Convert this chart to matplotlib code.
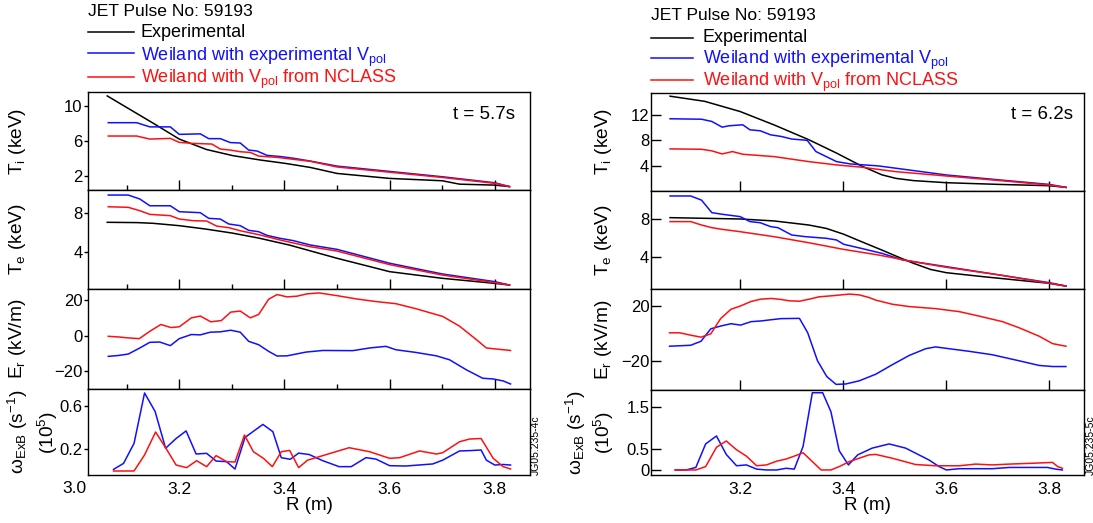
import matplotlib
matplotlib.use("Agg")
import matplotlib.pyplot as plt
import matplotlib.transforms as mtransforms
from matplotlib.lines import Line2D
from matplotlib.ticker import FixedLocator, NullLocator

plt.rcParams["font.family"] = ["Liberation Sans", "DejaVu Sans"]
plt.rcParams["mathtext.fontset"] = "custom"
plt.rcParams["mathtext.rm"] = "Liberation Sans"
plt.rcParams["mathtext.it"] = "Liberation Sans:italic"
plt.rcParams["axes.linewidth"] = 1.0

W, H = 1093, 523

# ---------------- t = 5.7 s ----------------
R_TI_EXP_57 = [3.063, 3.151, 3.20, 3.252, 3.302, 3.354, 3.403, 3.449, 3.50, 3.60, 3.70, 3.733, 3.80, 3.828]
TI_EXP_57 = [11.15, 8.0, 6.2, 5.0, 4.3, 3.8, 3.4, 2.95, 2.26, 1.69, 1.42, 1.03, 0.92, 0.75]
R_TI_VEXP_57 = [3.065, 3.119, 3.144, 3.183, 3.20, 3.24, 3.256, 3.278, 3.297, 3.316, 3.332, 3.348, 3.367,
                3.392, 3.417, 3.449, 3.50, 3.60, 3.70, 3.80, 3.828]
TI_VEXP_57 = [8.08, 8.08, 7.6, 7.6, 6.74, 6.8, 6.25, 6.25, 5.8, 5.75, 4.94, 4.83, 4.33,
              4.2, 4.0, 3.68, 3.1, 2.49, 1.88, 1.19, 0.75]
R_TI_NCL_57 = [3.065, 3.119, 3.144, 3.183, 3.20, 3.227, 3.262, 3.278, 3.297, 3.316, 3.335, 3.351, 3.386,
               3.449, 3.50, 3.60, 3.70, 3.80, 3.828]
TI_NCL_57 = [6.55, 6.55, 6.2, 6.28, 5.82, 5.7, 5.63, 5.06, 4.94, 4.75, 4.67, 4.25, 4.1,
             3.65, 3.0, 2.4, 1.8, 1.12, 0.75]

R_TE_EXP_57 = [3.063, 3.12, 3.15, 3.20, 3.25, 3.30, 3.35, 3.409, 3.50, 3.60, 3.70, 3.80, 3.828]
TE_EXP_57 = [7.03, 7.0, 6.93, 6.69, 6.35, 5.95, 5.45, 4.74, 3.4, 2.05, 1.38, 0.87, 0.7]
R_TE_VEXP_57 = [3.065, 3.103, 3.125, 3.144, 3.183, 3.20, 3.24, 3.256, 3.278, 3.294, 3.316, 3.332, 3.351,
                3.367, 3.392, 3.417, 3.449, 3.50, 3.60, 3.70, 3.80, 3.828]
TE_VEXP_57 = [9.78, 9.78, 9.38, 8.7, 8.7, 8.1, 8.0, 7.43, 7.36, 6.86, 6.69, 6.22, 6.08,
              5.71, 5.41, 5.18, 4.74, 4.3, 2.9, 1.82, 1.04, 0.7]
R_TE_NCL_57 = [3.065, 3.103, 3.125, 3.144, 3.183, 3.20, 3.227, 3.252, 3.271, 3.294, 3.316, 3.354, 3.392,
               3.449, 3.50, 3.60, 3.70, 3.80, 3.828]
TE_NCL_57 = [8.6, 8.54, 8.2, 7.83, 7.7, 7.36, 7.19, 7.16, 6.65, 6.49, 6.18, 5.75, 5.24,
             4.57, 4.13, 2.76, 1.71, 0.94, 0.7]

R_ER_NCL_57 = [3.065, 3.084, 3.103, 3.124, 3.144, 3.165, 3.184, 3.20, 3.223, 3.24, 3.26, 3.28, 3.298,
               3.316, 3.335, 3.351, 3.37, 3.386, 3.405, 3.424, 3.443, 3.466, 3.504, 3.536, 3.574,
               3.612, 3.65, 3.701, 3.733, 3.765, 3.784, 3.803, 3.83]
ER_NCL_57 = [-0.4, -0.75, -1.3, -1.7, 2.4, 6.2, 4.5, 4.9, 9.9, 10.9, 7.7, 8.4, 13.1,
             13.7, 9.9, 11.8, 20.3, 22.9, 21.6, 22.0, 23.3, 23.8, 22.1, 20.5, 19.0,
             17.8, 15.0, 10.7, 5.25, -2.25, -6.9, -7.5, -8.3]
R_ER_VEXP_57 = [3.065, 3.084, 3.103, 3.125, 3.144, 3.163, 3.183, 3.20, 3.223, 3.24, 3.259, 3.278, 3.298,
                3.316, 3.332, 3.351, 3.37, 3.386, 3.405, 3.441, 3.473, 3.53, 3.562, 3.593, 3.612,
                3.65, 3.689, 3.714, 3.746, 3.777, 3.797, 3.816, 3.83]
ER_VEXP_57 = [-11.6, -11.1, -10.3, -6.9, -3.75, -3.6, -5.6, -1.7, 0.6, 0.4, 1.9, 2.1, 3.0,
              1.9, -3.2, -5.1, -8.8, -11.4, -11.3, -9.2, -8.3, -8.4, -6.9, -6.0, -7.9,
              -9.4, -11.3, -13.5, -19.1, -23.8, -24.2, -25.3, -27.0]

R_W_VEXP_57 = [3.075, 3.094, 3.114, 3.134, 3.154, 3.174, 3.194, 3.213, 3.232, 3.252, 3.27, 3.29, 3.306,
               3.325, 3.359, 3.378, 3.394, 3.411, 3.427, 3.447, 3.473, 3.504, 3.527, 3.555, 3.574,
               3.60, 3.631, 3.682, 3.701, 3.733, 3.752, 3.774, 3.784, 3.80, 3.816, 3.83]
W_VEXP_57 = [0.015, 0.07, 0.255, 0.72, 0.55, 0.21, 0.30, 0.37, 0.157, 0.163, 0.092, 0.086, 0.018,
             0.31, 0.43, 0.363, 0.123, 0.108, 0.165, 0.152, 0.095, 0.04, 0.04, 0.123, 0.11,
             0.049, 0.046, 0.065, 0.1, 0.185, 0.188, 0.194, 0.1, 0.055, 0.06, 0.055]
R_W_NCL_57 = [3.075, 3.114, 3.134, 3.155, 3.174, 3.194, 3.214, 3.233, 3.252, 3.27, 3.29, 3.306, 3.324,
              3.341, 3.36, 3.377, 3.394, 3.41, 3.427, 3.444, 3.473, 3.523, 3.562, 3.60, 3.619,
              3.657, 3.689, 3.701, 3.733, 3.752, 3.774, 3.797, 3.816, 3.83]
W_NCL_57 = [0.0, 0.0, 0.148, 0.36, 0.215, 0.055, 0.031, 0.095, 0.04, 0.142, 0.086, 0.083, 0.332,
            0.178, 0.117, 0.04, 0.178, 0.19, 0.031, 0.1, 0.142, 0.215, 0.178, 0.117, 0.123,
            0.185, 0.157, 0.169, 0.27, 0.295, 0.30, 0.117, 0.04, 0.018]

# ---------------- t = 6.2 s ----------------
R_TI_EXP_62 = [3.064, 3.131, 3.20, 3.266, 3.333, 3.387, 3.435, 3.475, 3.502, 3.536, 3.60, 3.704, 3.80, 3.832]
TI_EXP_62 = [14.9, 14.1, 12.5, 10.4, 8.1, 6.0, 4.0, 2.6, 2.05, 1.7, 1.37, 1.1, 0.9, 0.64]
R_TI_VEXP_62 = [3.064, 3.125, 3.145, 3.165, 3.178, 3.205, 3.219, 3.239, 3.259, 3.28, 3.30, 3.33, 3.347,
                3.367, 3.387, 3.414, 3.468, 3.60, 3.704, 3.80, 3.832]
TI_VEXP_62 = [11.37, 11.3, 10.95, 10.06, 10.27, 10.43, 9.64, 9.49, 8.86, 8.6, 8.2, 8.0, 6.24,
              5.45, 4.67, 4.3, 4.0, 2.58, 1.8, 1.1, 0.64]
R_TI_NCL_62 = [3.064, 3.125, 3.145, 3.165, 3.185, 3.205, 3.266, 3.333, 3.387, 3.435, 3.502, 3.60,
               3.704, 3.80, 3.832]
TI_NCL_62 = [6.66, 6.6, 6.35, 5.87, 6.24, 5.82, 5.45, 4.67, 4.15, 3.8, 3.1, 2.42, 1.7, 1.0, 0.64]

R_TE_EXP_62 = [3.064, 3.20, 3.266, 3.333, 3.367, 3.40, 3.435, 3.475, 3.502, 3.536, 3.569, 3.60,
               3.671, 3.80, 3.832]
TE_EXP_62 = [8.14, 8.0, 7.79, 7.36, 7.0, 6.4, 5.6, 4.7, 4.07, 3.3, 2.65, 2.3, 1.88, 1.17, 0.88]
R_TE_VEXP_62 = [3.064, 3.104, 3.125, 3.145, 3.165, 3.20, 3.219, 3.239, 3.259, 3.273, 3.30, 3.327, 3.367,
                3.387, 3.401, 3.435, 3.475, 3.515, 3.60, 3.704, 3.80, 3.832]
TE_VEXP_62 = [10.44, 10.44, 10.0, 8.67, 8.5, 8.25, 7.72, 7.6, 7.19, 7.08, 6.3, 6.12, 5.95,
              5.77, 5.31, 4.88, 4.35, 3.65, 2.94, 2.05, 1.24, 0.88]
R_TE_NCL_62 = [3.064, 3.104, 3.125, 3.145, 3.165, 3.20, 3.266, 3.333, 3.40, 3.468, 3.536, 3.60,
               3.704, 3.80, 3.832]
TE_NCL_62 = [7.72, 7.72, 7.36, 7.08, 6.9, 6.65, 6.12, 5.48, 4.78, 4.18, 3.47, 2.87, 2.05, 1.17, 0.88]

R_ER_NCL_62 = [3.063, 3.083, 3.104, 3.124, 3.143, 3.162, 3.182, 3.201, 3.221, 3.24, 3.26, 3.279, 3.295,
               3.315, 3.334, 3.353, 3.379, 3.412, 3.431, 3.45, 3.463, 3.495, 3.528, 3.579, 3.625,
               3.663, 3.709, 3.741, 3.78, 3.806, 3.832]
ER_NCL_62 = [0.37, 0.37, -1.35, -2.8, -0.37, 10.7, 17.5, 20.0, 23.2, 24.9, 25.4, 24.7, 23.7,
             23.4, 24.9, 26.6, 27.4, 28.6, 28.0, 26.1, 24.2, 21.2, 19.5, 18.0, 15.8,
             12.6, 8.5, 4.05, -2.1, -7.5, -9.4]
R_ER_VEXP_62 = [3.063, 3.104, 3.124, 3.143, 3.162, 3.182, 3.201, 3.221, 3.24, 3.26, 3.279, 3.315, 3.331,
                3.35, 3.368, 3.386, 3.405, 3.431, 3.463, 3.495, 3.528, 3.56, 3.579, 3.605, 3.644,
                3.689, 3.741, 3.78, 3.806, 3.832]
ER_VEXP_62 = [-9.4, -8.7, -5.8, 3.3, 5.3, 7.0, 6.0, 8.5, 9.0, 9.9, 10.7, 10.9, 0.4,
              -20.0, -31.5, -37.2, -36.9, -34.6, -29.8, -22.9, -16.1, -11.2, -9.9, -11.2, -13.1,
              -15.6, -20.0, -23.4, -24.2, -24.2]

R_W_VEXP_62 = [3.074, 3.095, 3.114, 3.133, 3.154, 3.173, 3.193, 3.212, 3.232, 3.251, 3.271, 3.289, 3.305,
               3.322, 3.34, 3.36, 3.376, 3.392, 3.41, 3.428, 3.456, 3.489, 3.521, 3.566, 3.586,
               3.60, 3.625, 3.689, 3.722, 3.796, 3.812, 3.825]
W_VEXP_62 = [0.0, 0.0, 0.06, 0.62, 0.81, 0.37, 0.1, 0.12, 0.02, 0.0, 0.0, 0.04, 0.02,
             0.56, 1.84, 1.84, 1.39, 0.46, 0.12, 0.36, 0.52, 0.62, 0.52, 0.24, 0.08,
             0.0, 0.03, 0.03, 0.06, 0.06, 0.02, 0.0]
R_W_NCL_62 = [3.074, 3.114, 3.133, 3.154, 3.173, 3.193, 3.212, 3.232, 3.251, 3.271, 3.289, 3.305, 3.322,
              3.34, 3.357, 3.376, 3.392, 3.412, 3.45, 3.463, 3.495, 3.54, 3.579, 3.625, 3.657,
              3.689, 3.722, 3.767, 3.806, 3.816, 3.825]
W_NCL_62 = [0.0, 0.0, 0.08, 0.54, 0.69, 0.48, 0.33, 0.1, 0.12, 0.21, 0.26, 0.33, 0.41,
            0.2, 0.0, 0.0, 0.08, 0.2, 0.36, 0.37, 0.28, 0.13, 0.1, 0.1, 0.14,
            0.12, 0.14, 0.16, 0.18, 0.08, 0.04]

TITLE = "JET Pulse No: 59193"
LABELS = ["Experimental", r"Weiland with experimental V$_{\mathregular{pol}}$",
          r"Weiland with V$_{\mathregular{pol}}$ from NCLASS"]
COLORS = ["black", "#1010ff", "#ff1010"]
YLABELS = [r"T$_{\mathregular{i}}$ (keV)", r"T$_{\mathregular{e}}$ (keV)",
           r"E$_{\mathregular{r}}$ (kV/m)",
           "\u03c9$_{\\mathregular{ExB}}$ (s$^{\\mathregular{-1}}$)"]
WSCALE_LABEL = r"(10$^{\mathregular{5}}$)"
XLIM = (3.027, 3.867)


def axes_px(fig, left, top, right, bottom):
    return fig.add_axes([left / W, 1 - bottom / H, (right - left) / W, (bottom - top) / H])


def build_column(fig, left, right, rows, panels, ylims, yticks, yticklabels,
                 ydir, ylen, ypad, ylab_x, wlab_x, wscale_x, minor, jg_x, jg_text, t_text, t_x):
    axes = []
    for i, (top, bottom) in enumerate(rows):
        ax = axes_px(fig, left, top, right, bottom)
        cols = COLORS if len(panels[i]) == 3 else COLORS[1:]
        for col, (r, v) in zip(cols, panels[i]):
            ax.plot(r, v, color=col, lw=1.1)
        ax.set_xlim(*XLIM)
        ax.set_ylim(*ylims[i])
        ax.yaxis.set_major_locator(FixedLocator(yticks[i]))
        ax.set_yticklabels(yticklabels[i])
        ax.tick_params(axis="y", direction=ydir, length=ylen, width=1.0, labelsize=12, pad=ypad)
        ax.set_xticks([3.2, 3.4, 3.6, 3.8])
        if minor:
            ax.xaxis.set_minor_locator(FixedLocator([3.1, 3.3, 3.5, 3.7]))
        else:
            ax.xaxis.set_minor_locator(NullLocator())
        if i < 3:
            ax.tick_params(axis="x", which="major", direction="in", length=7.5, width=1.0, labelbottom=False)
            ax.tick_params(axis="x", which="minor", direction="in", length=3.8, width=1.0)
        else:
            ax.tick_params(axis="x", which="both", length=0, labelsize=12.5, pad=5)
            ax.set_xticklabels(["3.2", "3.4", "3.6", "3.8"])
            ax.set_xlabel("R (m)", fontsize=13.5, va="center")
            ax.xaxis.set_label_coords(0.5, -(505 - bottom) / (bottom - top))
        ax.set_ylabel(YLABELS[i], fontsize=13.8, va="center", ha="center")
        ax.yaxis.set_label_coords(((wlab_x if i == 3 else ylab_x) - left) / (right - left), 0.5)
        axes.append(ax)

    # second line of the shear-rate label: units scale
    wax = axes[3]
    wax.text((wscale_x - left) / (right - left), 0.5, WSCALE_LABEL, transform=wax.transAxes,
             rotation=90, ha="center", va="center", fontsize=13.8)
    # run time stamp in the top panel
    axes[0].text(t_x, 0.775, t_text, transform=axes[0].transAxes, ha="right", va="center", fontsize=13.5)
    fig.text(jg_x / W, 1 - 445 / H, jg_text, rotation=90, ha="center", va="center", fontsize=7.5)
    return axes


def draw_key(fig, x0, x1, xt, baselines, handle_y):
    fig.text(x0 / W, 1 - baselines[0] / H, TITLE, ha="left", va="baseline", fontsize=12.6)
    for lab, col, yb, yh in zip(LABELS, COLORS, baselines[1:], handle_y):
        fig.add_artist(Line2D([x0 / W, x1 / W], [1 - yh / H, 1 - yh / H], color=col, lw=1.1))
        fig.text(xt / W, 1 - yb / H, lab, color=col, ha="left", va="baseline", fontsize=13)


fig = plt.figure(figsize=(W / 100, H / 100), dpi=100)

left_panels = [
    [(R_TI_EXP_57, TI_EXP_57), (R_TI_VEXP_57, TI_VEXP_57), (R_TI_NCL_57, TI_NCL_57)],
    [(R_TE_EXP_57, TE_EXP_57), (R_TE_VEXP_57, TE_VEXP_57), (R_TE_NCL_57, TE_NCL_57)],
    [(R_ER_VEXP_57, ER_VEXP_57), (R_ER_NCL_57, ER_NCL_57)],
    [(R_W_VEXP_57, W_VEXP_57), (R_W_NCL_57, W_NCL_57)],
]
right_panels = [
    [(R_TI_EXP_62, TI_EXP_62), (R_TI_VEXP_62, TI_VEXP_62), (R_TI_NCL_62, TI_NCL_62)],
    [(R_TE_EXP_62, TE_EXP_62), (R_TE_VEXP_62, TE_VEXP_62), (R_TE_NCL_62, TE_NCL_62)],
    [(R_ER_VEXP_62, ER_VEXP_62), (R_ER_NCL_62, ER_NCL_62)],
    [(R_W_VEXP_62, W_VEXP_62), (R_W_NCL_62, W_NCL_62)],
]

left_axes = build_column(
    fig, 88.3, 530, [(92, 190), (190, 289), (289, 389), (389, 475)], left_panels,
    ylims=[(0.36, 11.6), (0.3, 10.29), (-29.8, 26.0), (-0.037, 0.757)],
    yticks=[[2, 6, 10], [4, 8], [-20, 0, 20], [0.2, 0.6]],
    yticklabels=[["2", "6", "10"], ["4", "8"], ["\u221220", "0", "20"], ["0.2", "0.6"]],
    ydir="out", ylen=2.8, ypad=1.2, ylab_x=18, wlab_x=18, wscale_x=48, minor=True,
    jg_x=536, jg_text="JG05.235-4c", t_text="t = 5.7s", t_x=0.966)
right_axes = build_column(
    fig, 651, 1084, [(93, 190.7), (190.7, 289), (289, 390), (390, 475)], right_panels,
    ylims=[(0.12, 15.4), (0.57, 11.0), (-41.3, 32.3), (-0.12, 1.905)],
    yticks=[[4, 8, 12], [4, 8], [-20, 20], [0, 0.5, 1.5]],
    yticklabels=[["4", "8", "12"], ["4", "8"], ["\u221220", "20"], ["0", "0.5", "1.5"]],
    ydir="in", ylen=7, ypad=1.2, ylab_x=604, wlab_x=576, wscale_x=604, minor=False,
    jg_x=1091, jg_text="JG05.235-5c", t_text="t = 6.2s", t_x=0.975)

# the 3.0 label sits just left of the left frame
bottom_left = left_axes[3]
trans = mtransforms.blended_transform_factory(bottom_left.transData, bottom_left.transAxes)
bottom_left.text(3.0, -0.07, "3.0", transform=trans, ha="center", va="top", fontsize=12.5, clip_on=False)

# keys above each column
draw_key(fig, 88.3, 133.8, 140.8, [15.5, 37, 61, 83], [31.7, 53.3, 76.7])
draw_key(fig, 651, 692.6, 703, [20, 42.5, 64, 86], [37.7, 58.3, 80])

fig.savefig("out.png", dpi=100)
